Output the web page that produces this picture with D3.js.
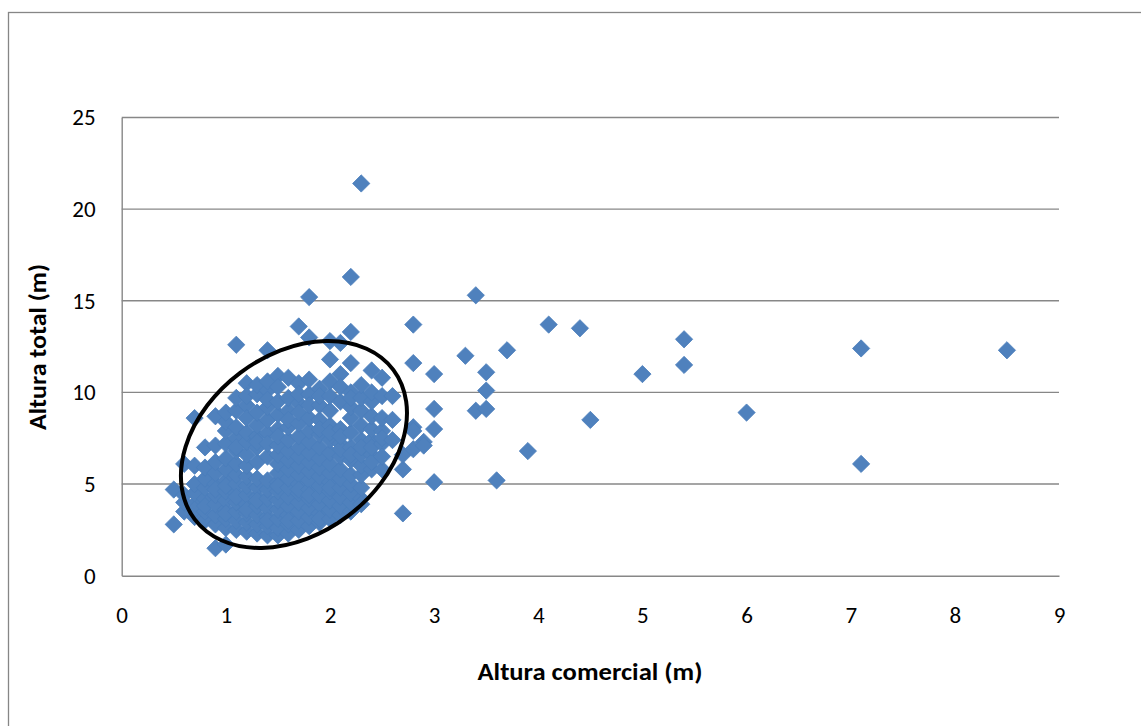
<!DOCTYPE html>
<html>
<head>
<meta charset="utf-8">
<script src="https://cdn.jsdelivr.net/npm/d3@7"></script>
<style>
  html, body { margin: 0; padding: 0; background: #fff; }
  svg { display: block; }
  text { font-family: Carlito, Calibri, Lato, "Liberation Sans", sans-serif; fill: #000; }
</style>
</head>
<body>
<svg id="chart" width="1141" height="726"></svg>
<script>
// Altura comercial (x) vs. altura total (y), one diamond per tree
const medidas = [
  [0.5, 4.7], [0.5, 2.8],
  [0.6, 3.5], [0.6, 4.0], [0.6, 6.1], [0.6, 4.4],
  [0.7, 3.2], [0.7, 3.9], [0.7, 4.5], [0.7, 5.0], [0.7, 6.0], [0.7, 8.6], [0.7, 3.6],
  [0.8, 3.0], [0.8, 3.5], [0.8, 4.2], [0.8, 4.8], [0.8, 5.3], [0.8, 5.9], [0.8, 7.0], [0.8, 3.8],
  [0.9, 1.5], [0.9, 2.8], [0.9, 3.3], [0.9, 3.9], [0.9, 4.4], [0.9, 5.0], [0.9, 5.6], [0.9, 6.2], [0.9, 7.1], [0.9, 8.7], [0.9, 4.7],
  [1.0, 1.7], [1.0, 2.6], [1.0, 3.1], [1.0, 3.6], [1.0, 4.1], [1.0, 4.6], [1.0, 5.2], [1.0, 5.8], [1.0, 6.4], [1.0, 7.2], [1.0, 7.9], [1.0, 8.4], [1.0, 3.4], [1.0, 4.9], [1.0, 8.9],
  [1.1, 2.5], [1.1, 3.0], [1.1, 3.5], [1.1, 4.0], [1.1, 4.5], [1.1, 5.0], [1.1, 5.5], [1.1, 6.1], [1.1, 6.8], [1.1, 7.5], [1.1, 8.1], [1.1, 9.0], [1.1, 9.7], [1.1, 12.6], [1.1, 4.3], [1.1, 7.0],
  [1.2, 2.4], [1.2, 2.9], [1.2, 3.4], [1.2, 3.9], [1.2, 4.4], [1.2, 4.9], [1.2, 5.4], [1.2, 6.0], [1.2, 6.6], [1.2, 7.3], [1.2, 7.8], [1.2, 9.3], [1.2, 10.5], [1.2, 3.6], [1.2, 8.6], [1.2, 9.8],
  [1.3, 2.3], [1.3, 2.8], [1.3, 3.3], [1.3, 3.8], [1.3, 4.3], [1.3, 4.8], [1.3, 5.3], [1.3, 6.2], [1.3, 7.0], [1.3, 7.6], [1.3, 8.2], [1.3, 9.9], [1.3, 10.4], [1.3, 4.1], [1.3, 8.9], [1.3, 7.3],
  [1.4, 2.2], [1.4, 2.7], [1.4, 3.2], [1.4, 3.7], [1.4, 4.2], [1.4, 4.7], [1.4, 5.2], [1.4, 6.5], [1.4, 7.8], [1.4, 8.5], [1.4, 9.2], [1.4, 10.1], [1.4, 12.3], [1.4, 10.6], [1.4, 3.0], [1.4, 7.2], [1.4, 9.6],
  [1.5, 2.2], [1.5, 2.6], [1.5, 3.1], [1.5, 3.6], [1.5, 4.1], [1.5, 4.6], [1.5, 5.1], [1.5, 5.6], [1.5, 6.1], [1.5, 6.6], [1.5, 7.1], [1.5, 8.0], [1.5, 8.8], [1.5, 10.9], [1.5, 10.3], [1.5, 4.9], [1.5, 9.5], [1.5, 7.6],
  [1.6, 2.3], [1.6, 2.8], [1.6, 3.3], [1.6, 3.8], [1.6, 4.3], [1.6, 4.8], [1.6, 5.3], [1.6, 5.8], [1.6, 6.3], [1.6, 6.8], [1.6, 7.4], [1.6, 8.1], [1.6, 9.0], [1.6, 9.7], [1.6, 10.8], [1.6, 3.0], [1.6, 8.5],
  [1.7, 2.5], [1.7, 3.0], [1.7, 3.5], [1.7, 4.0], [1.7, 4.5], [1.7, 5.0], [1.7, 5.5], [1.7, 6.0], [1.7, 6.5], [1.7, 7.0], [1.7, 7.6], [1.7, 8.3], [1.7, 9.4], [1.7, 10.5], [1.7, 13.6], [1.7, 4.7], [1.7, 8.9], [1.7, 9.9],
  [1.8, 2.7], [1.8, 3.2], [1.8, 3.7], [1.8, 4.2], [1.8, 4.7], [1.8, 5.2], [1.8, 5.7], [1.8, 6.2], [1.8, 6.7], [1.8, 7.3], [1.8, 7.9], [1.8, 8.6], [1.8, 9.9], [1.8, 10.7], [1.8, 13.0], [1.8, 15.2], [1.8, 4.4], [1.8, 9.3],
  [1.9, 2.9], [1.9, 3.4], [1.9, 3.9], [1.9, 4.4], [1.9, 4.9], [1.9, 5.4], [1.9, 5.9], [1.9, 6.4], [1.9, 7.0], [1.9, 7.7], [1.9, 8.5], [1.9, 9.3], [1.9, 10.2], [1.9, 3.1], [1.9, 8.0], [1.9, 9.8],
  [2.0, 3.1], [2.0, 3.6], [2.0, 4.1], [2.0, 4.6], [2.0, 5.1], [2.0, 5.6], [2.0, 6.1], [2.0, 6.7], [2.0, 7.4], [2.0, 8.2], [2.0, 9.0], [2.0, 9.8], [2.0, 10.6], [2.0, 11.8], [2.0, 12.8], [2.0, 4.8], [2.0, 7.8],
  [2.1, 3.3], [2.1, 3.8], [2.1, 4.3], [2.1, 4.8], [2.1, 5.3], [2.1, 5.8], [2.1, 6.5], [2.1, 7.2], [2.1, 8.0], [2.1, 9.5], [2.1, 11.0], [2.1, 12.7], [2.1, 6.9], [2.1, 7.6], [2.1, 10.3],
  [2.2, 3.5], [2.2, 4.0], [2.2, 4.5], [2.2, 5.0], [2.2, 5.5], [2.2, 6.3], [2.2, 7.0], [2.2, 7.8], [2.2, 8.6], [2.2, 9.2], [2.2, 10.0], [2.2, 11.6], [2.2, 13.3], [2.2, 16.3], [2.2, 6.6], [2.2, 9.7],
  [2.3, 4.2], [2.3, 4.8], [2.3, 5.5], [2.3, 6.0], [2.3, 7.4], [2.3, 8.2], [2.3, 9.0], [2.3, 9.7], [2.3, 10.4], [2.3, 21.4], [2.3, 3.9], [2.3, 6.6], [2.3, 7.0],
  [2.4, 5.8], [2.4, 6.6], [2.4, 7.4], [2.4, 8.0], [2.4, 8.7], [2.4, 9.5], [2.4, 11.2], [2.4, 10.0], [2.4, 6.2], [2.4, 7.0],
  [2.5, 5.8], [2.5, 7.2], [2.5, 7.9], [2.5, 8.6], [2.5, 9.8], [2.5, 10.8], [2.5, 6.5], [2.5, 7.5],
  [2.6, 9.8], [2.6, 7.4], [2.6, 8.5],
  [2.7, 3.4], [2.7, 5.8], [2.7, 6.6],
  [2.8, 13.7], [2.8, 11.6], [2.8, 8.1], [2.8, 7.9], [2.8, 6.9],
  [2.9, 7.3], [2.9, 7.1],
  [3.0, 11.0], [3.0, 9.1], [3.0, 8.0], [3.0, 5.1],
  [3.3, 12.0], [3.4, 15.3], [3.4, 9.0],
  [3.5, 11.1], [3.5, 10.1], [3.5, 9.1],
  [3.6, 5.2], [3.7, 12.3], [3.9, 6.8],
  [4.1, 13.7], [4.4, 13.5], [4.5, 8.5],
  [5.0, 11.0], [5.4, 12.9], [5.4, 11.5],
  [6.0, 8.9], [7.1, 12.4], [7.1, 6.1], [8.5, 12.3]
];

const xTicks = [0, 1, 2, 3, 4, 5, 6, 7, 8, 9];
const yTicks = [0, 5, 10, 15, 20, 25];

const xTitle = "Altura comercial (m)";
const yTitle = "Altura total (m)";

// Highlighted group: ellipse centre in data units, radii in pixels, tilt in degrees
const grupoCentro = [1.654, 7.16];
const grupoRadios = [124.3, 89.6];
const grupoGiro = -36.9;

const svg = d3.select("#chart");
const W = 1141, H = 726;
const plot = { left: 121.7, right: 1059, top: 117.5, bottom: 575.7 };
const fontStack = "Carlito, Calibri, Lato, sans-serif";

const x = d3.scaleLinear().domain([0, 9]).range([plot.left, plot.right]);
const y = d3.scaleLinear().domain([0, 25]).range([plot.bottom, plot.top]);

// chart frame
svg.append("rect")
  .attr("x", 8.5).attr("y", 12.5)
  .attr("width", W + 20).attr("height", H + 20)
  .attr("fill", "#fff").attr("stroke", "#868686").attr("stroke-width", 1.3);

// horizontal gridlines
svg.append("g")
  .selectAll("line")
  .data(yTicks.filter(d => d > 0))
  .join("line")
  .attr("x1", plot.left).attr("x2", plot.right)
  .attr("y1", d => y(d)).attr("y2", d => y(d))
  .attr("stroke", "#878787").attr("stroke-width", 1.4);

// y axis
const yAxis = svg.append("g")
  .attr("transform", `translate(${plot.left},0)`)
  .call(d3.axisLeft(y).tickValues(yTicks).tickSize(0).tickPadding(26).tickFormat(d3.format("d")));
yAxis.select(".domain").attr("stroke", "#878787").attr("stroke-width", 1.4);
yAxis.selectAll("text").attr("font-size", 23).style("font-family", fontStack).attr("fill", "#000");

// x axis
const xAxis = svg.append("g")
  .attr("transform", `translate(0,${plot.bottom})`)
  .call(d3.axisBottom(x).tickValues(xTicks).tickSize(0).tickPadding(31).tickFormat(d3.format("d")));
xAxis.select(".domain").attr("stroke", "#878787").attr("stroke-width", 1.4);
xAxis.selectAll("text").attr("font-size", 23).style("font-family", fontStack).attr("fill", "#000");

// axis titles
svg.append("text")
  .attr("x", 590).attr("y", 680)
  .attr("text-anchor", "middle")
  .attr("font-size", 24).attr("font-weight", "bold")
  .attr("textLength", 225).attr("lengthAdjust", "spacingAndGlyphs")
  .text(xTitle);

svg.append("text")
  .attr("transform", "translate(46,347) rotate(-90)")
  .attr("text-anchor", "middle")
  .attr("font-size", 24).attr("font-weight", "bold")
  .attr("textLength", 166).attr("lengthAdjust", "spacingAndGlyphs")
  .text(yTitle);

// diamond markers
const diamond = d3.symbol().type(d3.symbolDiamond2).size(190);
svg.append("g")
  .selectAll("path")
  .data(medidas)
  .join("path")
  .attr("d", diamond)
  .attr("transform", d => `translate(${x(d[0])},${y(d[1])})`)
  .attr("fill", "#4f81bd")
  .attr("stroke", "#4a7ebb")
  .attr("stroke-width", 0.8);

// ellipse around the main group
svg.append("ellipse")
  .attr("cx", 0).attr("cy", 0)
  .attr("rx", grupoRadios[0]).attr("ry", grupoRadios[1])
  .attr("transform", `translate(${x(grupoCentro[0])},${y(grupoCentro[1])}) rotate(${grupoGiro})`)
  .attr("fill", "none")
  .attr("stroke", "#000")
  .attr("stroke-width", 4);
</script>
</body>
</html>
